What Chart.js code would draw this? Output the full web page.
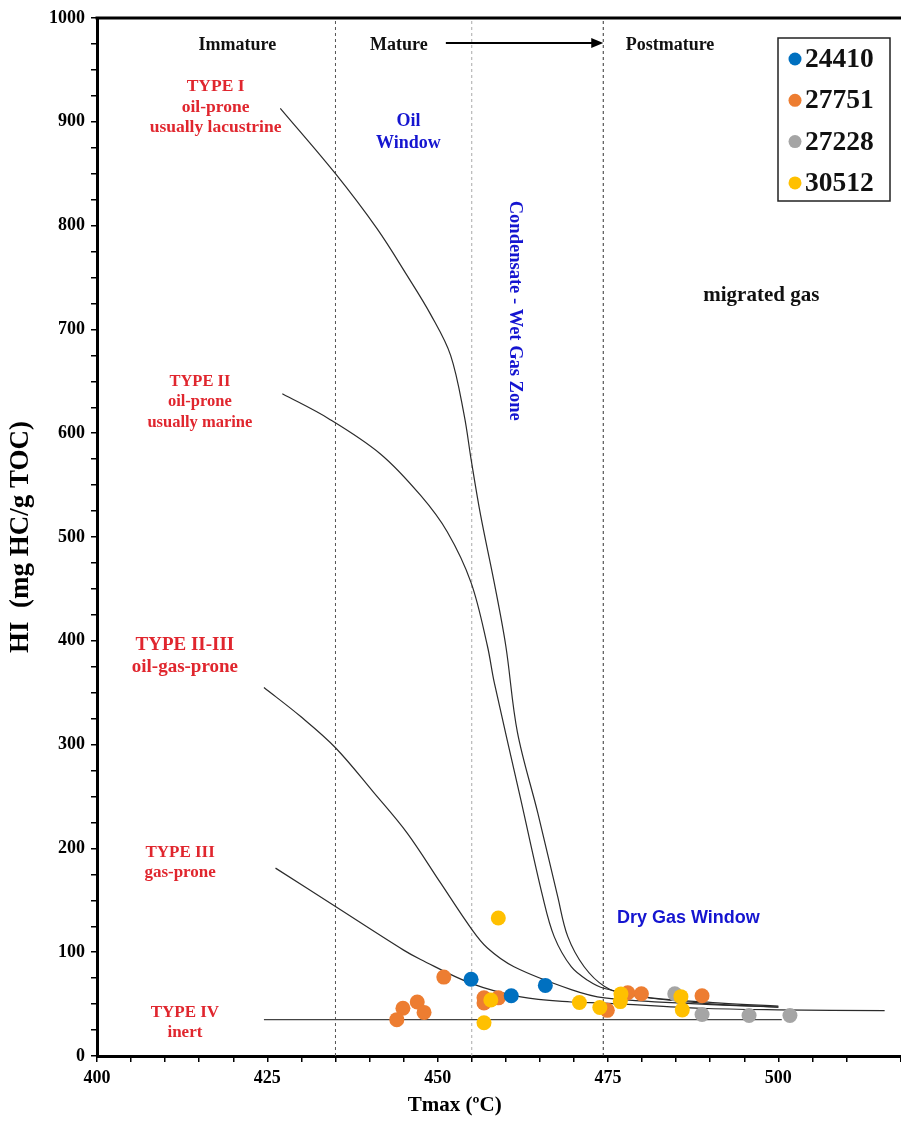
<!DOCTYPE html>
<html>
<head>
<meta charset="utf-8">
<script src="https://cdn.jsdelivr.net/npm/chart.js@4"></script>
<style>
  html, body { margin: 0; padding: 0; background: #fff; }
  #wrap { width: 901px; height: 1125px; position: relative; }
</style>
</head>
<body>
<div id="wrap"><canvas id="hiTmaxChart"></canvas></div>
<script>
// Sample points (Tmax, HI)
const seriesNames = ['24410', '27751', '27228', '30512'];
const seriesColors = ['#0070C0', '#ED7D31', '#A5A5A5', '#FFC000'];

const tmax24410 = [454.9, 460.8, 465.8];
const hi24410   = [74, 58, 68];

const tmax27751 = [450.9, 458.9, 456.8, 456.8, 444.9, 447.0, 448.0, 444.0, 474.9, 477.9, 479.9, 488.8];
const hi27751   = [76, 56, 56, 51, 46, 52, 42, 35, 44, 61, 60, 58];

const tmax27228 = [484.8, 488.8, 495.7, 501.7];
const hi27228   = [60, 40, 39, 39];

const tmax30512 = [458.9, 457.8, 456.8, 470.8, 473.8, 476.9, 476.8, 485.7, 485.9];
const hi30512   = [133, 54, 32, 51.5, 46.7, 59.8, 52.4, 57.2, 44.4];

// Kerogen type curves
const tmaxTypeI = [426.9, 435.0, 441.1, 445.5, 449.0, 451.9, 453.9, 454.9, 456.3, 458.3, 460.0, 461.7, 464.7, 467.6, 469.1, 471.5, 474.5, 477.9, 488.7, 500];
const hiTypeI   = [913, 850, 797, 752, 714, 675, 617, 575, 521, 456, 395, 312, 234, 154, 115, 86, 67, 59, 51, 47];

const tmaxTypeII = [427.2, 434.0, 441.6, 447.5, 451.4, 454.9, 457.3, 458.3, 462.2, 465.4, 467.1, 469.6, 472.0, 474.5, 481.3, 491.6, 500];
const hiTypeII   = [638, 614, 580, 540, 505, 456, 395, 360, 247, 154, 115, 86, 73, 65, 56, 51, 48];

const tmaxTypeIIIII = [424.5, 429.9, 435.0, 440.6, 445.5, 450.4, 454.9, 457.3, 461.2, 469.6, 474.5, 488.7, 500];
const hiTypeIIIII   = [355, 327, 297, 254, 215, 167, 123, 104, 86, 64, 56, 50, 47];

const tmaxTypeIII = [426.2, 435.0, 445.0, 447.5, 454.9, 462.2, 469.6, 474.5, 488.7, 500, 515.6];
const hiTypeIII   = [181, 144, 102, 93, 70, 57, 52, 51, 46, 44.5, 43.7];

const tmaxTypeIV = [424.5, 500.5];
const hiTypeIV   = [35, 35];

// Maturity boundaries
const boundaryTmax = [435, 455, 474.3];

// Axis ticks
const xMin = 400, xMax = 518, xStep = 5, xLabelEvery = 25;
const yMin = 0, yMax = 1000, yStep = 25, yLabelEvery = 100;

const toPoints = (xs, ys) => xs.map((x, i) => ({ x: x, y: ys[i] }));

const serif = "'Liberation Serif', 'Times New Roman', serif";
const sans = "'Liberation Sans', Arial, sans-serif";

const sampleSets = [
  { label: seriesNames[0], data: toPoints(tmax24410, hi24410), backgroundColor: seriesColors[0], order: 1 },
  { label: seriesNames[1], data: toPoints(tmax27751, hi27751), backgroundColor: seriesColors[1], order: 2 },
  { label: seriesNames[2], data: toPoints(tmax27228, hi27228), backgroundColor: seriesColors[2], order: 3 },
  { label: seriesNames[3], data: toPoints(tmax30512, hi30512), backgroundColor: seriesColors[3], order: 0 }
].map(d => Object.assign(d, { pointRadius: 7.5, pointHoverRadius: 7.5, borderWidth: 0, showLine: false }));

const curveStyle = { showLine: true, pointRadius: 0, borderColor: '#2b2b2b', borderWidth: 1.2, tension: 0.35, fill: false, order: 5 };
const curveSets = [
  Object.assign({ label: 'Type I', data: toPoints(tmaxTypeI, hiTypeI) }, curveStyle),
  Object.assign({ label: 'Type II', data: toPoints(tmaxTypeII, hiTypeII) }, curveStyle),
  Object.assign({ label: 'Type II-III', data: toPoints(tmaxTypeIIIII, hiTypeIIIII) }, curveStyle),
  Object.assign({ label: 'Type III', data: toPoints(tmaxTypeIII, hiTypeIII) }, curveStyle),
  Object.assign({ label: 'Type IV', data: toPoints(tmaxTypeIV, hiTypeIV) }, curveStyle, { tension: 0, borderColor: '#444' })
];

const boundaryColors = ['#555', '#aaa', '#333'];
const boundarySets = boundaryTmax.map((t, i) => ({
  label: 'boundary ' + t,
  data: [{ x: t, y: yMin }, { x: t, y: yMax }],
  showLine: true, pointRadius: 0, borderWidth: 1,
  borderColor: boundaryColors[i], borderDash: [3, 3], order: 6
}));

// Text labels placed in data units (Tmax, HI)
const notes = [
  { t: ['Immature'], x: 420.6, y: 974, c: '#111', f: 'bold 18px ' + serif, lh: 20.5 },
  { t: ['Mature'], x: 444.3, y: 974, c: '#111', f: 'bold 18px ' + serif, lh: 20.5 },
  { t: ['Postmature'], x: 484.1, y: 974, c: '#111', f: 'bold 18px ' + serif, lh: 20.5 },
  { t: ['TYPE I', 'oil-prone', 'usually lacustrine'], x: 417.4, y: 934, c: '#E0262E', f: 'bold 17.5px ' + serif, lh: 20.5 },
  { t: ['Oil', 'Window'], x: 445.7, y: 900, c: '#1515D0', f: 'bold 18px ' + serif, lh: 22 },
  { t: ['migrated gas'], x: 497.5, y: 733, c: '#111', f: 'bold 21px ' + serif, lh: 20.5 },
  { t: ['TYPE II', 'oil-prone', 'usually marine'], x: 415.1, y: 650, c: '#E0262E', f: 'bold 16.5px ' + serif, lh: 20.5 },
  { t: ['TYPE II-III', 'oil-gas-prone'], x: 412.9, y: 396, c: '#E0262E', f: 'bold 19px ' + serif, lh: 22 },
  { t: ['TYPE III', 'gas-prone'], x: 412.2, y: 196, c: '#E0262E', f: 'bold 17px ' + serif, lh: 20.5 },
  { t: ['TYPE IV', 'inert'], x: 412.9, y: 42, c: '#E0262E', f: 'bold 17px ' + serif, lh: 20.5 },
  { t: ['Dry Gas Window'], x: 486.8, y: 133, c: '#1515D0', f: 'bold 18px ' + sans, lh: 20.5 }
];

const annotationPlugin = {
  id: 'annotations',
  afterDatasetsDraw(chart) {
    const ctx = chart.ctx, xs = chart.scales.x, ys = chart.scales.y, area = chart.chartArea;
    ctx.save();
    ctx.textAlign = 'center';
    ctx.textBaseline = 'middle';
    notes.forEach(n => {
      ctx.font = n.f;
      ctx.fillStyle = n.c;
      const px = xs.getPixelForValue(n.x), py = ys.getPixelForValue(n.y);
      n.t.forEach((line, i) => ctx.fillText(line, px, py + i * n.lh));
    });

    // x axis title (sits left of centre in the original)
    ctx.font = 'bold 21px ' + serif;
    ctx.fillStyle = '#000';
    ctx.fillText('Tmax (ºC)', xs.getPixelForValue(452.5), 1106);

    // rotated zone label
    ctx.save();
    ctx.translate(xs.getPixelForValue(461.3), ys.getPixelForValue(718));
    ctx.rotate(Math.PI / 2);
    ctx.font = 'bold 18.5px ' + serif;
    ctx.fillStyle = '#1515D0';
    ctx.fillText('Condensate - Wet Gas Zone', 0, 0);
    ctx.restore();

    // arrow Mature -> Postmature
    const ay = ys.getPixelForValue(976), ax0 = xs.getPixelForValue(451.2), ax1 = xs.getPixelForValue(474.3);
    ctx.strokeStyle = '#000';
    ctx.fillStyle = '#000';
    ctx.lineWidth = 2;
    ctx.beginPath();
    ctx.moveTo(ax0, ay);
    ctx.lineTo(ax1 - 10, ay);
    ctx.stroke();
    ctx.beginPath();
    ctx.moveTo(ax1, ay);
    ctx.lineTo(ax1 - 12, ay - 5);
    ctx.lineTo(ax1 - 12, ay + 5);
    ctx.closePath();
    ctx.fill();

    // top frame line
    ctx.lineWidth = 3;
    ctx.beginPath();
    ctx.moveTo(area.left - 1.5, area.top);
    ctx.lineTo(chart.width, area.top);
    ctx.stroke();

    // legend box
    const lx = 778, ly = 38, lw = 112, lh = 163;
    ctx.fillStyle = '#fff';
    ctx.fillRect(lx, ly, lw, lh);
    ctx.lineWidth = 1.5;
    ctx.strokeStyle = '#222';
    ctx.strokeRect(lx, ly, lw, lh);
    ctx.textAlign = 'left';
    ctx.font = 'bold 27.5px ' + serif;
    seriesNames.forEach((name, i) => {
      const cy = 59 + i * 41.3;
      ctx.fillStyle = seriesColors[i];
      ctx.beginPath();
      ctx.arc(lx + 17, cy, 6.5, 0, Math.PI * 2);
      ctx.fill();
      ctx.fillStyle = '#111';
      ctx.fillText(name, lx + 27, cy + 1);
    });
    ctx.restore();
  }
};

const ctx = document.getElementById('hiTmaxChart').getContext('2d');
const hiChart = new Chart(ctx, {
  type: 'scatter',
  data: { datasets: sampleSets.concat(curveSets, boundarySets) },
  options: {
    responsive: true,
    maintainAspectRatio: false,
    animation: false,
    events: [],
    layout: { autoPadding: false, padding: { top: 18, right: 0, left: 0, bottom: 0 } },
    plugins: { legend: { display: false }, tooltip: { enabled: false } },
    scales: {
      x: {
        type: 'linear', min: xMin, max: xMax,
        afterFit: s => { s.height = 69; s.paddingRight = 0; s.paddingLeft = 0; },
        grid: { display: true, drawOnChartArea: false, drawTicks: true, tickLength: 6, color: '#000', lineWidth: 1.5 },
        border: { display: true, color: '#000', width: 3 },
        ticks: {
          stepSize: xStep, autoSkip: false, maxRotation: 0, padding: 6, color: '#000',
          font: { family: serif, size: 18, weight: 'bold' },
          callback: v => (v % xLabelEvery === 0 ? v : '')
        },
        title: { display: false, text: 'Tmax (ºC)' }
      },
      y: {
        type: 'linear', min: yMin, max: yMax,
        afterFit: s => { s.width = 97; },
        grid: { display: true, drawOnChartArea: false, drawTicks: true, tickLength: 6, color: '#000', lineWidth: 1.5 },
        border: { display: true, color: '#000', width: 3 },
        ticks: {
          stepSize: yStep, autoSkip: false, padding: 6, color: '#000',
          font: { family: serif, size: 18, weight: 'bold' },
          callback: v => (v % yLabelEvery === 0 ? v : '')
        },
        title: { display: true, text: 'HI  (mg HC/g TOC)', color: '#000', font: { family: serif, size: 27, weight: 'bold' }, padding: { top: 5, bottom: 0 } }
      }
    }
  },
  plugins: [annotationPlugin]
});
</script>
</body>
</html>
